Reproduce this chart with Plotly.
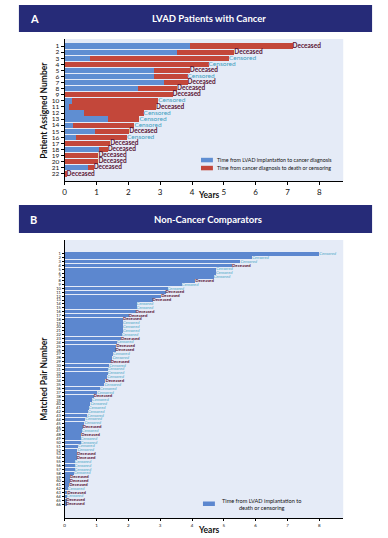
import plotly.graph_objects as go

# ---------------- Panel A data ----------------
a_patients = [str(i) for i in range(1, 23)]
a_cancer_dx = [3.95, 3.53, 0.81, 0.0, 2.82, 2.82, 3.12, 2.31, 0.0, 0.23, 0.15, 0.61,
               1.35, 0.26, 0.96, 0.36, 0.0, 1.09, 0.0, 0.0, 0.73, 0.0]
a_end = [7.16, 5.33, 5.16, 4.52, 3.93, 3.86, 3.86, 3.53, 3.39, 2.94, 2.87, 2.48,
         2.35, 2.19, 2.03, 1.96, 1.43, 1.35, 1.06, 1.06, 0.91, 0.06]
a_status = ["Deceased", "Deceased", "Censored", "Censored", "Deceased", "Censored",
            "Deceased", "Deceased", "Deceased", "Censored", "Deceased", "Censored",
            "Censored", "Censored", "Deceased", "Censored", "Deceased", "Deceased",
            "Deceased", "Deceased", "Deceased", "Deceased"]
a_after_dx = [round(e - c, 3) for e, c in zip(a_end, a_cancer_dx)]
a_legend = ["Time from LVAD implantation to cancer diagnosis",
            "Time from cancer diagnosis to death or censoring"]

# ---------------- Panel B data ----------------
b_pairs = [str(i) for i in range(1, 67)]
b_time = [8.00, 5.89, 5.52, 5.26, 4.76, 4.75, 4.68, 4.10, 3.68, 3.23, 3.17, 3.03,
          2.76, 2.26, 2.26, 2.23, 2.01, 1.83, 1.83, 1.83, 1.83, 1.79, 1.77, 1.64,
          1.62, 1.60, 1.52, 1.50, 1.45, 1.40, 1.35, 1.35, 1.34, 1.28, 1.25, 1.11,
          1.02, 0.91, 0.86, 0.81, 0.76, 0.73, 0.71, 0.65, 0.62, 0.57, 0.54, 0.52,
          0.50, 0.50, 0.42, 0.40, 0.39, 0.38, 0.31, 0.31, 0.31, 0.29, 0.17, 0.16,
          0.14, 0.10, 0.08, 0.06, 0.05, 0.04]
b_status = ["Censored", "Censored", "Censored", "Deceased", "Censored", "Censored",
            "Censored", "Deceased", "Censored", "Censored", "Deceased", "Deceased",
            "Deceased", "Censored", "Censored", "Deceased", "Deceased", "Deceased",
            "Censored", "Censored", "Censored", "Censored", "Deceased", "Censored",
            "Deceased", "Deceased", "Censored", "Censored", "Deceased", "Censored",
            "Censored", "Censored", "Censored", "Deceased", "Censored", "Censored",
            "Censored", "Deceased", "Censored", "Censored", "Censored", "Censored",
            "Censored", "Censored", "Censored", "Deceased", "Censored", "Deceased",
            "Censored", "Censored", "Censored", "Censored", "Deceased", "Deceased",
            "Censored", "Censored", "Censored", "Censored", "Deceased", "Deceased",
            "Deceased", "Censored", "Deceased", "Censored", "Deceased", "Deceased"]
b_legend = "Time from LVAD implantation to<br>death or censoring"

x_ticks = list(range(0, 9))

# ---------------- styles ----------------
BLUE = "#5F8ED2"
BLUE_B = "#5C87CF"
RED = "#C3473A"
BG = "#E5EBF7"
NAVY = "#262B78"
DEC = "#5A1434"
CEN = "#3E9EC0"
FONT = "Lato"

fig = go.Figure()

# Panel A bars
fig.add_trace(go.Bar(y=a_patients, x=a_cancer_dx, orientation="h",
                     marker=dict(color=BLUE, line_width=0), name=a_legend[0],
                     showlegend=False, xaxis="x", yaxis="y"))
fig.add_trace(go.Bar(y=a_patients, x=a_after_dx, orientation="h",
                     marker=dict(color=RED, line_width=0), name=a_legend[1],
                     showlegend=False, xaxis="x", yaxis="y"))

# Panel A status labels
for st, col in [("Deceased", DEC), ("Censored", CEN)]:
    ys = [p for p, s in zip(a_patients, a_status) if s == st]
    xs = [e for e, s in zip(a_end, a_status) if s == st]
    txt = ("<b>%s</b>" % st) if st == "Deceased" else st
    fig.add_trace(go.Scatter(
        y=ys, x=xs, mode="text", text=[txt for _ in ys],
        textposition="middle right", textfont=dict(color=col, size=6.5, family=FONT),
        showlegend=False, hoverinfo="skip", xaxis="x", yaxis="y"))

# Panel B bars
fig.add_trace(go.Bar(y=b_pairs, x=b_time, orientation="h",
                     marker=dict(color=BLUE_B, line_width=0), name=b_legend,
                     showlegend=False, xaxis="x2", yaxis="y2"))

for st, col in [("Deceased", DEC), ("Censored", "#4AA6C6")]:
    ys = [p for p, s in zip(b_pairs, b_status) if s == st]
    xs = [t for t, s in zip(b_time, b_status) if s == st]
    txt = ("<b>%s</b>" % st) if st == "Deceased" else ("<i>%s</i>" % st)
    fig.add_trace(go.Scatter(
        y=ys, x=xs, mode="text", text=[txt for _ in ys],
        textposition="middle right", textfont=dict(color=col, size=4.3, family=FONT),
        showlegend=False, hoverinfo="skip", xaxis="x2", yaxis="y2"))

W, H = 388, 538
def py(p):
    return 1 - p / H
def px(p):
    return p / W

xdom = [px(63), px(343)]

axis_common = dict(range=[0, 8.75], tickvals=x_ticks, showgrid=False, zeroline=False,
                   showline=True, linecolor="black", linewidth=1.2, ticks="outside",
                   tickcolor="black", mirror=False)
yaxis_common = dict(autorange="reversed", type="category", showgrid=False,
                    showline=True, linecolor="black", linewidth=1.2, ticks="outside",
                    tickcolor="black", tickmode="array")

shapes = [
    dict(type="rect", xref="paper", yref="paper", x0=px(17), x1=px(372),
         y0=py(32), y1=py(5), fillcolor=NAVY, line_width=0, layer="below"),
    dict(type="rect", xref="paper", yref="paper", x0=px(17), x1=px(372),
         y0=py(233), y1=py(205), fillcolor=NAVY, line_width=0, layer="below"),
    # legend swatches
    dict(type="rect", xref="paper", yref="paper", x0=px(200), x1=px(212),
         y0=py(162.3), y1=py(157.8), fillcolor=BLUE, line_width=0),
    dict(type="rect", xref="paper", yref="paper", x0=px(200), x1=px(212),
         y0=py(170.3), y1=py(165.8), fillcolor=RED, line_width=0),
    dict(type="rect", xref="paper", yref="paper", x0=px(202), x1=px(214),
         y0=py(506), y1=py(501.5), fillcolor=BLUE_B, line_width=0),
]

def ann(text, x, y, size, color="white", xanchor="center", angle=0):
    return dict(text=text, x=px(x), y=py(y), xref="paper", yref="paper",
                xanchor=xanchor, yanchor="middle", showarrow=False, textangle=angle,
                font=dict(size=size, color=color, family=FONT))

annotations = [
    ann("<b>A</b>", 26, 18.5, 11, xanchor="left"),
    ann("<b>LVAD Patients with Cancer</b>", 208, 18.5, 9.5),
    ann("<b>B</b>", 26, 219, 11, xanchor="left"),
    ann("<b>Non-Cancer Comparators</b>", 207, 219, 9.5),
    ann("<b>Years</b>", 208, 194.5, 8.5, color="#111"),
    ann("<b>Years</b>", 208, 529.5, 8.5, color="#111"),
    ann("<b>Patient Assigned Number</b>", 42, 110, 8.5, color="#111", angle=-90),
    ann("<b>Matched Pair Number</b>", 42, 379, 8.5, color="#111", angle=-90),
    ann(a_legend[0], 214, 160, 5.3, color="#111", xanchor="left"),
    ann(a_legend[1], 214, 168, 5.3, color="#111", xanchor="left"),
    dict(text=b_legend, x=px(261), y=py(503.5), xref="paper", yref="paper",
         xanchor="center", yanchor="middle", align="center", showarrow=False,
         font=dict(size=5.6, color="#111", family=FONT)),
]

fig.update_layout(
    width=W, height=H, margin=dict(l=0, r=0, t=0, b=0),
    paper_bgcolor="white", plot_bgcolor=BG,
    barmode="stack", bargap=0.12, showlegend=False,
    font=dict(family=FONT, color="#111"),
    xaxis=dict(domain=xdom, anchor="y", ticklen=3,
               tickfont=dict(size=8, color="#111"), **axis_common),
    yaxis=dict(domain=[py(181), py(39)], anchor="x", ticklen=3,
               tickvals=a_patients, ticktext=a_patients,
               tickfont=dict(size=6.5, color="#111"), **yaxis_common),
    xaxis2=dict(domain=xdom, anchor="y2", ticklen=2,
                tickfont=dict(size=4.5, color="#111"), **axis_common),
    yaxis2=dict(domain=[py(518), py(240)], anchor="x2", ticklen=2,
                tickvals=b_pairs, ticktext=b_pairs,
                tickfont=dict(size=4, color="#111"), **yaxis_common),
    shapes=shapes,
    annotations=annotations,
)

fig.write_html("out.html", config={"displayModeBar": False},
               post_script="document.body.style.margin='0';document.body.style.overflow='hidden';")
